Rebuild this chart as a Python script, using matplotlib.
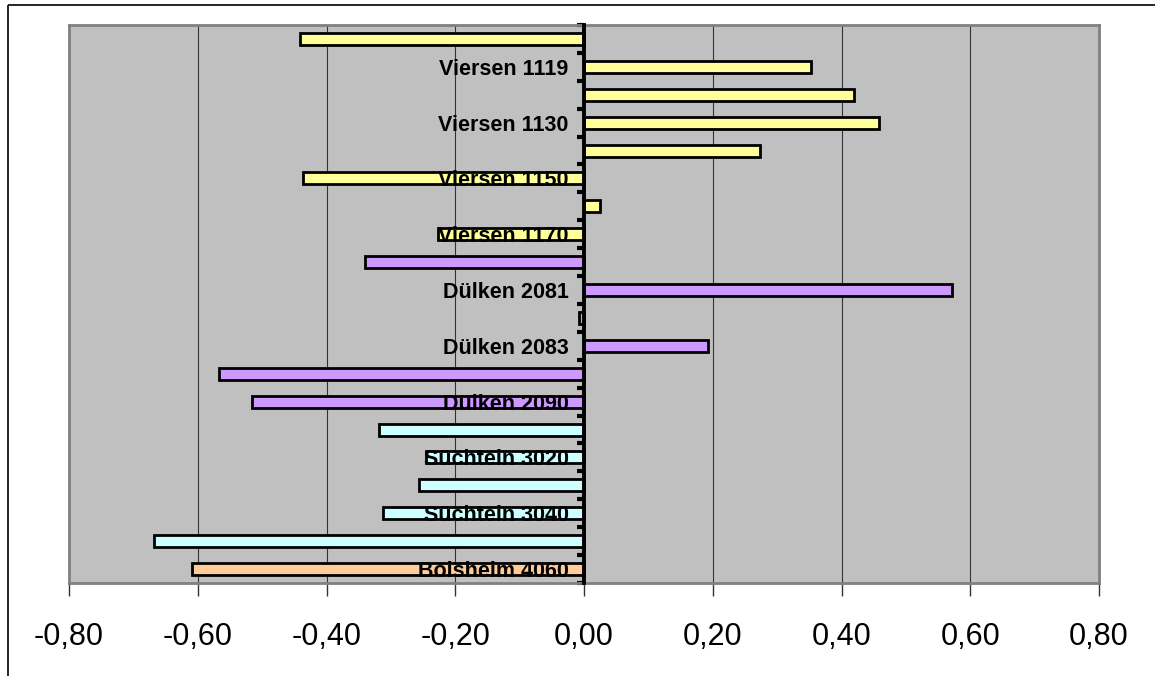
import numpy as np
import matplotlib
matplotlib.use("Agg")
import matplotlib.pyplot as plt
from matplotlib.lines import Line2D

# ---- data (top to bottom) ----
labels = ["", "Viersen 1119", "", "Viersen 1130", "", "Viersen 1150", "", "Viersen 1170",
          "", "Dülken 2081", "", "Dülken 2083", "", "Dülken 2090",
          "", "Süchtein 3020", "", "Süchtein 3040", "", "Boisheim 4060"]
values = [-0.441, 0.353, 0.419, 0.459, 0.273, -0.437, 0.025, -0.227,
          -0.340, 0.572, -0.008, 0.193, -0.567, -0.515,
          -0.318, -0.245, -0.256, -0.313, -0.668, -0.609]
groups = ["Viersen"] * 8 + ["Dülken"] * 6 + ["Süchtein"] * 5 + ["Boisheim"]
group_colors = {"Viersen": "#FFFF99", "Dülken": "#CC99FF",
                "Süchtein": "#CCFFFF", "Boisheim": "#FFCC99"}
x_ticks = [-0.8, -0.6, -0.4, -0.2, 0.0, 0.2, 0.4, 0.6, 0.8]

plt.rcParams['font.family'] = ['Liberation Sans', 'DejaVu Sans']

fig = plt.figure(figsize=(11.55, 6.76), dpi=100)
W, H = 1155, 676
# outer frame (only left and top visible)
fig.add_artist(Line2D([7.5 / W, 7.5 / W], [0, 1 - 4.5 / H], transform=fig.transFigure,
                      color='black', linewidth=1.2, solid_capstyle='butt'))
fig.add_artist(Line2D([7.5 / W, 1], [1 - 4.5 / H, 1 - 4.5 / H], transform=fig.transFigure,
                      color='black', linewidth=1.2, solid_capstyle='butt'))

ax = fig.add_axes([69 / W, 1 - 583 / H, (1099 - 69) / W, (583 - 25) / H])
ax.set_facecolor('#C0C0C0')

n = len(values)
ypos = np.arange(n)
colors = [group_colors[g] for g in groups]
ax.barh(ypos, values, height=0.43, color=colors, edgecolor='black',
        linewidth=2.0, zorder=1)

ax.set_xlim(-0.8, 0.8)
ax.set_ylim(n - 0.5, -0.5)

# vertical gridlines (below bars)
for v in x_ticks[1:-1]:
    if abs(v) > 1e-9:
        ax.axvline(v, color='#333333', linewidth=0.8, zorder=0.5)
# left border of plot area
ax.axvline(-0.8, color='#808080', linewidth=2, zorder=0.6, clip_on=False)

# spines
for s in ['top', 'right', 'bottom']:
    ax.spines[s].set_color('#808080')
    ax.spines[s].set_linewidth(2)
ax.spines['left'].set_position(('data', 0))
ax.spines['left'].set_linewidth(2.8)
ax.spines['left'].set_color('black')
ax.spines['left'].set_zorder(3)

# y ticks: labels at centres (every other), stubs at boundaries
shown = [i for i, l in enumerate(labels) if l]
ax.set_yticks(shown)
ax.set_yticklabels([labels[i] for i in shown], fontsize=15.5, fontweight='bold')
ax.tick_params(axis='y', which='major', length=0, pad=11)
ax.set_yticks(np.arange(-0.5, n, 1.0), minor=True)
ax.tick_params(axis='y', which='minor', length=5, width=3, color='black',
               direction='out')

# x ticks
def fmt(v):
    if abs(v) < 1e-9:
        v = 0.0
    return f"{v:.2f}".replace('.', ',')
ax.set_xticks(x_ticks)
ax.set_xticklabels([fmt(v) for v in x_ticks], fontsize=22)
ax.tick_params(axis='x', length=9, width=1, color='#333333', pad=19)

fig.savefig("out.png", dpi=100)
